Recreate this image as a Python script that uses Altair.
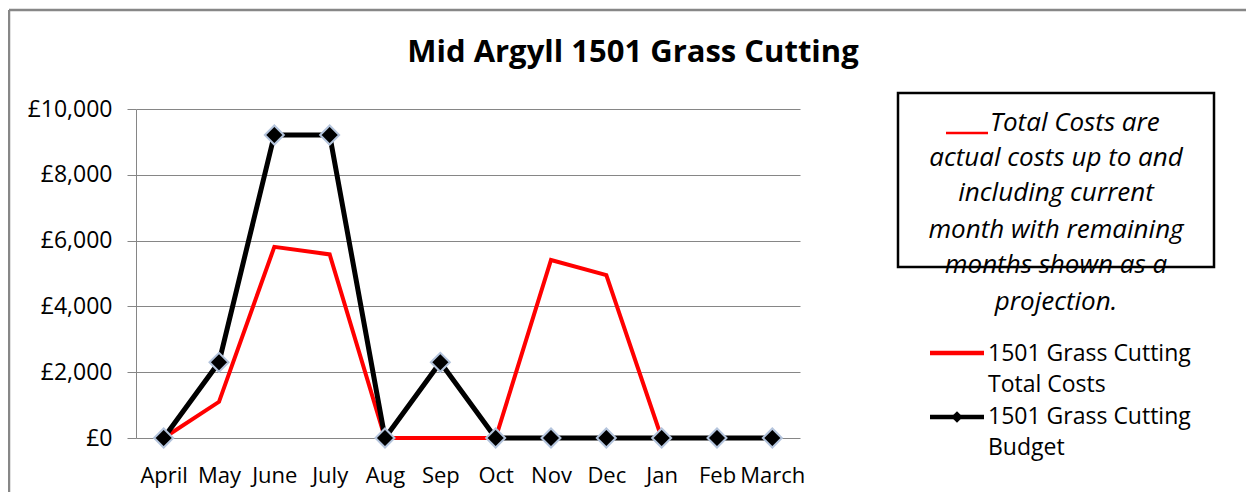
import altair as alt
import pandas as pd

months = ["April", "May", "June", "July", "Aug", "Sep", "Oct", "Nov", "Dec", "Jan", "Feb", "March"]
total_costs = [0, 1100, 5810, 5580, 0, 0, 0, 5410, 4950, 0, 0, 0]
budget = [0, 2300, 9210, 9210, 0, 2300, 0, 0, 0, 0, 0, 0]
series_names = ["1501 Grass Cutting Total Costs", "1501 Grass Cutting Budget"]
note_lines = ["Total Costs are", "actual costs up to and", "including current",
              "month with remaining", "months shown as a", "projection."]
legend_lines = ["1501 Grass Cutting", "Total Costs", "1501 Grass Cutting", "Budget"]
title_text = "Mid Argyll 1501 Grass Cutting"

FONT = "Open Sans"
GRID = "#868686"

df = pd.DataFrame({
    "month": months * 2,
    "series": [series_names[0]] * len(months) + [series_names[1]] * len(months),
    "value": total_costs + budget,
})
one = pd.DataFrame({"k": [0]})

W, H = 664, 329

xenc = alt.X("month:N", sort=months,
             scale=alt.Scale(paddingInner=0, paddingOuter=0.5),
             axis=alt.Axis(title=None, labelAngle=0, labelFont=FONT, labelFontSize=22,
                           labelColor="black", ticks=False, domain=False, grid=False,
                           labelPadding=27, labelOverlap=False))
yenc = alt.Y("value:Q", scale=alt.Scale(domain=[0, 10000], nice=False),
             axis=alt.Axis(title=None, values=[0, 2000, 4000, 6000, 8000, 10000],
                           labelExpr='"£" + format(datum.value, ",")',
                           labelFont=FONT, labelFontSize=23, labelColor="black",
                           tickSize=9, tickColor=GRID, labelPadding=15,
                           domainColor=GRID, gridColor=GRID, gridWidth=1, grid=True))

base = alt.Chart(df)

red_line = base.transform_filter(alt.datum.series == series_names[0]).mark_line(
    color="#ff0000", strokeWidth=4).encode(x=xenc, y=yenc)
black_line = base.transform_filter(alt.datum.series == series_names[1]).mark_line(
    color="black", strokeWidth=5).encode(x=xenc, y=yenc)
diamonds = base.transform_filter(alt.datum.series == series_names[1]).mark_point(
    shape="diamond", filled=True, color="black", size=360, stroke="#b4c4dc",
    strokeWidth=2, opacity=1).encode(x=xenc, y=yenc)

layers = [red_line, black_line, diamonds]

# title
layers.append(alt.Chart(one).mark_text(text=title_text, font=FONT, fontSize=31, fontWeight="bold",
                                       align="center", baseline="middle", fill="black")
              .encode(x=alt.value(497), y=alt.value(-56)))

# note text box
note_y = [14, 49, 84, 121, 156, 193]
for i, line in enumerate(note_lines):
    layers.append(alt.Chart(one).mark_text(text=line, font=FONT, fontSize=26, fontStyle="italic",
                                           align="left" if i == 0 else "center",
                                           baseline="middle", fill="black")
                  .encode(x=alt.value(854 if i == 0 else 920), y=alt.value(note_y[i])))
layers.append(alt.Chart(one).mark_rule(color="#ff0000", strokeWidth=2.5)
              .encode(x=alt.value(810), x2=alt.value(852), y=alt.value(24)))
layers.append(alt.Chart(one).mark_rect(fillOpacity=0, stroke="black", strokeWidth=2.5)
              .encode(x=alt.value(762), x2=alt.value(1078), y=alt.value(-16), y2=alt.value(158)))

# legend
layers.append(alt.Chart(one).mark_rule(color="#ff0000", strokeWidth=4.5)
              .encode(x=alt.value(794), x2=alt.value(848), y=alt.value(244)))
layers.append(alt.Chart(one).mark_rule(color="black", strokeWidth=4.5)
              .encode(x=alt.value(794), x2=alt.value(848), y=alt.value(308)))
layers.append(alt.Chart(one).mark_point(shape="diamond", filled=True, color="black", size=130, opacity=1)
              .encode(x=alt.value(821), y=alt.value(308)))
leg_y = [245, 276, 308, 339]
for txt, yy in zip(legend_lines, leg_y):
    layers.append(alt.Chart(one).mark_text(text=txt, font=FONT, fontSize=23, align="left",
                                           baseline="middle", fill="black")
                  .encode(x=alt.value(852), y=alt.value(yy)))

# outer frame (top and left edges)
layers.append(alt.Chart(one).mark_rule(color="#878787", strokeWidth=2.5)
              .encode(x=alt.value(-127), x2=alt.value(1130), y=alt.value(-99)))
layers.append(alt.Chart(one).mark_rule(color="#878787", strokeWidth=2.5)
              .encode(x=alt.value(-127), y=alt.value(-99), y2=alt.value(385)))

chart = alt.layer(*layers).properties(
    width=W, height=H,
    autosize=alt.AutoSizeParams(type="none"),
    padding={"left": 128, "top": 101, "right": 446, "bottom": 54},
    background="white",
).configure_view(stroke=None)

chart.save("out.html", embed_options={"renderer": "svg", "actions": False})
